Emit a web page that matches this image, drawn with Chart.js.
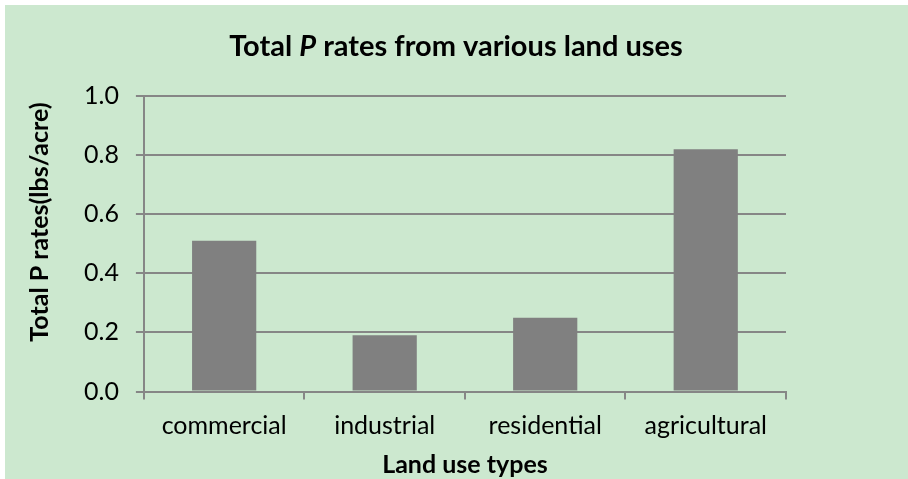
<!DOCTYPE html>
<html>
<head>
<meta charset="utf-8">
<script src="https://cdn.jsdelivr.net/npm/chart.js@4.4.1/dist/chart.umd.min.js"></script>
<style>
  html, body { margin: 0; padding: 0; background: #ffffff; }
  #wrap { position: relative; width: 908px; height: 479px; }
  canvas { display: block; }
</style>
</head>
<body>
<div id="wrap"><canvas id="c" width="908" height="479"></canvas></div>
<script>
const categories = ["commercial", "industrial", "residential", "agricultural"];
const totalPRates = [0.51, 0.19, 0.25, 0.82];
const yTicks = [0.0, 0.2, 0.4, 0.6, 0.8, 1.0];
const titleParts = [["Total ", "normal"], ["P", "italic"], [" rates from various land uses", "normal"]];
const xTitle = "Land use types";
const yTitle = "Total P rates(lbs/acre)";

const FONT = "Lato, 'Open Sans', sans-serif";
const GRID = "#868686";

const decor = {
  id: "decor",
  beforeDraw(chart) {
    const ctx = chart.ctx;
    ctx.save();
    ctx.fillStyle = "#CCE8CF";
    ctx.fillRect(5, 5, chart.width - 5, chart.height - 5);
    ctx.restore();
  },
  afterDraw(chart) {
    const ctx = chart.ctx;
    ctx.save();
    ctx.fillStyle = "#000";
    ctx.textBaseline = "alphabetic";
    let total = 0;
    const fonts = titleParts.map(p => `${p[1]} bold 29px ${FONT}`);
    titleParts.forEach((p, i) => { ctx.font = fonts[i]; total += ctx.measureText(p[0]).width; });
    let x = 456 - total / 2;
    ctx.textAlign = "left";
    titleParts.forEach((p, i) => { ctx.font = fonts[i]; ctx.fillText(p[0], x, 56); x += ctx.measureText(p[0]).width; });
    ctx.font = `bold 25px ${FONT}`;
    ctx.textAlign = "center";
    ctx.textBaseline = "middle";
    ctx.translate(40, 222);
    ctx.rotate(-Math.PI / 2);
    ctx.fillText(yTitle, 0, 0);
    ctx.restore();
  }
};

new Chart(document.getElementById("c"), {
  type: "bar",
  data: {
    labels: categories,
    datasets: [{
      data: totalPRates,
      backgroundColor: "#808080",
      borderWidth: 0,
      barPercentage: 0.4,
      categoryPercentage: 1.0
    }]
  },
  options: {
    responsive: false,
    animation: false,
    devicePixelRatio: 1,
    layout: { padding: { top: 96, right: 122, bottom: 0, left: 67 } },
    plugins: { legend: { display: false }, tooltip: { enabled: false }, title: { display: false } },
    scales: {
      x: {
        grid: { drawOnChartArea: false, drawTicks: true, tickLength: 8, color: GRID, lineWidth: 2 },
        border: { display: true, color: GRID, width: 2 },
        ticks: { color: "#000", font: { family: FONT, size: 25 }, padding: 11, maxRotation: 0 },
        title: { display: true, text: xTitle, color: "#000", font: { family: FONT, size: 25, weight: "bold", lineHeight: 1.1 }, padding: { top: 0, bottom: 0 } }
      },
      y: {
        min: 0, max: 1.0,
        afterBuildTicks(scale) { scale.ticks = yTicks.map(v => ({ value: v })); },
        grid: { drawTicks: true, tickLength: 8, color: GRID, lineWidth: 2 },
        border: { display: true, color: GRID, width: 2 },
        ticks: { color: "#000", font: { family: FONT, size: 25 }, padding: 17, callback: v => Number(v).toFixed(1) }
      }
    }
  },
  plugins: [decor]
});
</script>
</body>
</html>
